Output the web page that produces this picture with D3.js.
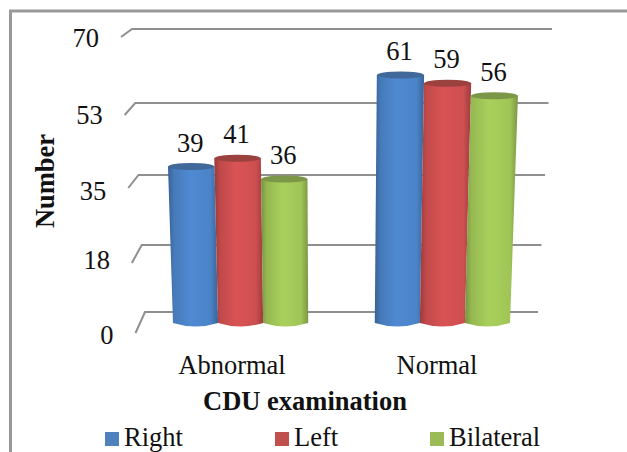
<!DOCTYPE html>
<html>
<head>
<meta charset="utf-8">
<script src="https://cdn.jsdelivr.net/npm/d3@7"></script>
<style>
  html, body { margin: 0; padding: 0; background: #fff; }
  text { font-family: "Liberation Serif", serif; fill: #111; font-size: 26.5px; }
</style>
</head>
<body>
<div id="chart"></div>
<script>
const categories = ['Abnormal', 'Normal'];
const seriesNames = ['Right', 'Left', 'Bilateral'];
const rightValues = [39, 61];
const leftValues = [41, 59];
const bilateralValues = [36, 56];
const tickValues = [0, 17.5, 35, 52.5, 70];
const tickLabels = ['0', '18', '35', '53', '70'];
const colors = ['#4f81bd', '#c0504d', '#9bbb59'];
const brightColors = ['#4f8ad2', '#d95354', '#a9d05c'];

const seriesValues = [rightValues, leftValues, bilateralValues];
const width = 627, height = 452;

const svg = d3.select('#chart').append('svg')
  .attr('width', width).attr('height', height)
  .style('display', 'block');

// outer frame, only top and left show in the picture
svg.append('path')
  .attr('d', 'M10.5,452V11H627')
  .attr('fill', 'none').attr('stroke', '#999').attr('stroke-width', 3);

// 3d chart: the back wall is squeezed by the perspective, so these are piecewise
const yWall = d3.scaleLinear().domain(tickValues).range([312, 245, 175, 103, 29]);
const yStub = d3.scaleLinear().domain(tickValues).range([333, 263, 188, 115, 37]);
const yLabel = d3.scaleLinear().domain(tickValues).range([338, 263, 194, 118, 41]);
const yFront = d3.scaleLinear().domain([0, 70]).range([326, 34.5]);
const xWall = d3.scaleLinear().domain([0, 70]).range([145, 132]);
const xStub = d3.scaleLinear().domain([0, 70]).range([135.5, 121]);
const xWallEnd = d3.scaleLinear().domain([0, 70]).range([538, 552]);

const grid = svg.append('g').attr('stroke', '#8f8f8f').attr('stroke-width', 2).attr('fill', 'none');
grid.selectAll('path').data(tickValues).join('path')
  .attr('d', d => `M${xStub(d)},${yStub(d)}L${xWall(d)},${yWall(d)}H${xWallEnd(d)}`);

svg.append('g').selectAll('text').data(tickValues).join('text')
  .attr('x', d => xStub(d) - 22)
  .attr('y', d => yLabel(d))
  .attr('text-anchor', 'end')
  .attr('dominant-baseline', 'middle')
  .text((d, i) => tickLabels[i]);

// bars sit on the floor at x0 + x1, tops lean away from the vanishing point
const x0 = d3.scaleBand().domain(categories).range([173, 510]).paddingInner(0.33);
const x1 = d3.scaleBand().domain(seriesNames).range([0, x0.bandwidth()]);
const lean = (x, v) => x + (x - 333) * 0.0008 * v;

const defs = svg.append('defs');
colors.forEach((c, i) => {
  const g = defs.append('linearGradient').attr('id', 'cyl' + i);
  const mid = d3.color(brightColors[i]);
  [[0, mid.darker(1)], [0.12, mid.darker(0.35)], [0.45, mid], [0.85, mid.darker(0.15)], [1, mid.darker(0.9)]]
    .forEach(([o, col]) => g.append('stop').attr('offset', o).attr('stop-color', col));
});

const bars = svg.append('g');
categories.forEach((cat, ci) => {
  seriesNames.forEach((name, si) => {
    const v = seriesValues[si][ci];
    const l = x0(cat) + x1(name);
    const r = l + x1.bandwidth();
    const tl = lean(l, v), tr = lean(r, v);
    const top = yFront(v);
    const base = yFront(0);
    bars.append('path')
      .attr('d', `M${l},${base - 3}Q${(l + r) / 2},${base + 4} ${r},${base - 3}L${tr},${top + 3}L${tl},${top + 3}Z`)
      .attr('fill', `url(#cyl${si})`);
    bars.append('ellipse')
      .attr('cx', (tl + tr) / 2).attr('cy', top + 3)
      .attr('rx', (tr - tl) / 2).attr('ry', 3.5)
      .attr('fill', d3.color(colors[si]).darker(0.6));
    svg.append('text')
      .attr('x', (tl + tr) / 2 - 1).attr('y', top - 12)
      .attr('text-anchor', 'middle')
      .text(v);
  });
});

// axis texts
const xCatLabel = d3.scaleOrdinal().domain(categories).range([232, 437]);
svg.append('g').selectAll('text').data(categories).join('text')
  .attr('x', d => xCatLabel(d))
  .attr('y', 374)
  .attr('text-anchor', 'middle')
  .text(d => d);

svg.append('text').attr('x', 305).attr('y', 410)
  .attr('text-anchor', 'middle')
  .style('font-weight', 'bold')
  .text('CDU examination');

svg.append('text')
  .attr('transform', 'translate(54,181) rotate(-90)')
  .attr('text-anchor', 'middle')
  .style('font-weight', 'bold')
  .text('Number');

// legend, baseline pulled up a bit so the g keeps its tail inside the page
const legendX = d3.scaleOrdinal().domain(seriesNames).range([105, 275, 430]);
const legend = svg.append('g').selectAll('g').data(seriesNames).join('g')
  .attr('transform', d => `translate(${legendX(d)},0)`);
legend.append('rect').attr('y', 432).attr('width', 14).attr('height', 14)
  .attr('fill', (d, i) => colors[i]);
legend.append('text').attr('x', 19).attr('y', 446)
  .text(d => d);
</script>
</body>
</html>
